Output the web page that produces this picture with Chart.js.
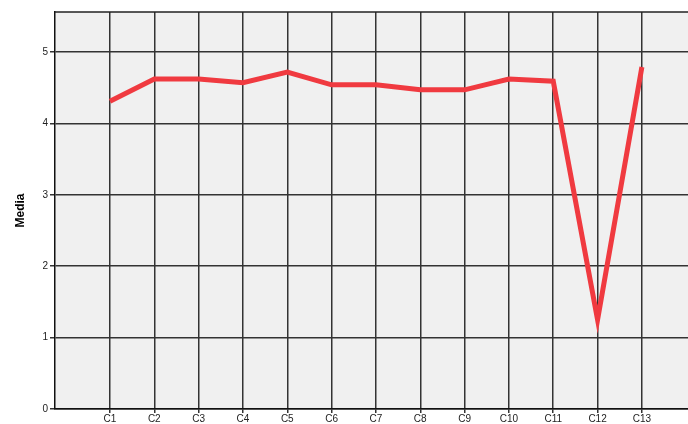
<!DOCTYPE html>
<html>
<head>
<meta charset="utf-8">
<script src="https://cdn.jsdelivr.net/npm/chart.js@4.4.0/dist/chart.umd.min.js"></script>
<style>
  html, body { margin: 0; padding: 0; background: #fff; }
  #wrap { width: 688px; height: 424px; }
</style>
</head>
<body>
<div id="wrap"><canvas id="grafico"></canvas></div>
<script>
const categorias = ['C1', 'C2', 'C3', 'C4', 'C5', 'C6', 'C7', 'C8', 'C9', 'C10', 'C11', 'C12', 'C13'];
const medias = [4.31, 4.62, 4.62, 4.57, 4.72, 4.54, 4.54, 4.47, 4.47, 4.62, 4.59, 1.25, 4.79];
const ticksY = [0, 1, 2, 3, 4, 5];

const fundo = {
  id: 'fundo',
  beforeDraw(chart) {
    const { ctx, chartArea: a } = chart;
    ctx.save();
    ctx.fillStyle = '#f0f0f0';
    ctx.fillRect(a.left, a.top, a.right - a.left, a.bottom - a.top);
    ctx.restore();
  },
  afterDatasetsDraw(chart) {
    const { ctx, chartArea: a } = chart;
    ctx.save();
    ctx.strokeStyle = '#222';
    ctx.lineWidth = 1.5;
    ctx.beginPath();
    ctx.moveTo(a.left, a.top);
    ctx.lineTo(a.right, a.top);
    ctx.stroke();
    ctx.restore();
  }
};

const ctx = document.getElementById('grafico').getContext('2d');

new Chart(ctx, {
  type: 'line',
  data: {
    datasets: [{
      label: 'Media',
      data: medias.map((v, i) => ({ x: i + 1, y: v })),
      borderColor: '#f03a40',
      borderWidth: 5,
      pointRadius: 0,
      tension: 0,
      fill: false
    }]
  },
  plugins: [fundo],
  options: {
    animation: false,
    responsive: true,
    maintainAspectRatio: false,
    layout: { padding: { top: 12, right: 0, left: 0, bottom: 0 } },
    plugins: {
      legend: { display: false },
      tooltip: { enabled: false }
    },
    scales: {
      x: {
        type: 'linear',
        min: -0.24,
        max: 14.04,
        afterBuildTicks(axis) {
          axis.ticks = categorias.map((c, i) => ({ value: i + 1 }));
        },
        afterFit(axis) { axis.height = 15; },
        ticks: {
          callback: (v) => categorias[v - 1] || '',
          font: { family: 'Liberation Sans', size: 10 },
          color: '#222',
          padding: 0,
          maxRotation: 0,
          autoSkip: false
        },
        grid: {
          color: '#333',
          lineWidth: 1.5,
          tickLength: 4,
          drawTicks: true
        },
        border: { color: '#111', width: 1.5 }
      },
      y: {
        min: 0,
        max: 5.56,
        afterBuildTicks(axis) {
          axis.ticks = ticksY.map(v => ({ value: v }));
        },
        afterFit(axis) { axis.width = 55; },
        ticks: {
          font: { family: 'Liberation Sans', size: 10 },
          color: '#222',
          padding: 2
        },
        grid: {
          color: '#333',
          lineWidth: 1.5,
          tickLength: 5
        },
        border: { color: '#111', width: 1.5 },
        title: {
          display: true,
          text: 'Media',
          font: { family: 'Liberation Sans', size: 12, weight: 'bold' },
          color: '#000',
          padding: { top: 13, bottom: 0 }
        }
      }
    }
  }
});
</script>
</body>
</html>
